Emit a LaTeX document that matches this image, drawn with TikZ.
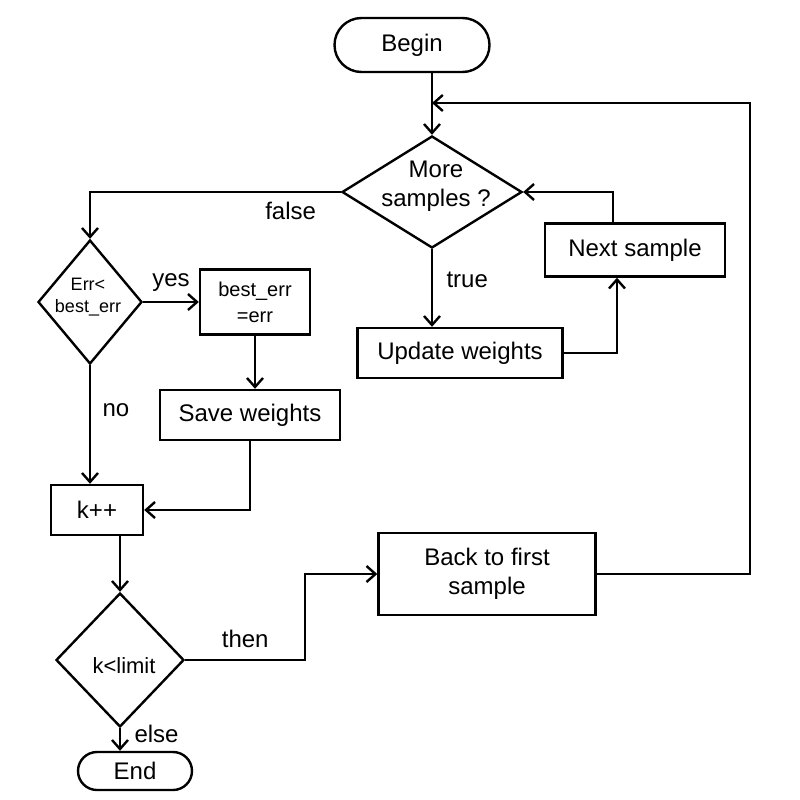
\documentclass[tikz,border=0pt]{standalone}
\usepackage{fontspec}
\setmainfont{Liberation Sans}
\usetikzlibrary{shapes.geometric,arrows.meta}
\begin{document}
\begin{tikzpicture}[x=1pt,y=-1pt,line width=2.4pt,
  txt/.style={font=\fontsize{24}{29}\selectfont},
  box/.style={draw,rectangle,inner sep=0pt,align=center,txt},
  term/.style={box,rounded corners=19pt},
  dec/.style={draw,diamond,inner sep=0pt},
  lbl/.style={txt},
  arr/.style={-{Straight Barb[length=9pt,width=16pt]}}]
\useasboundingbox (0,0) rectangle (800,800);
% nodes
\node[term,minimum width=155pt,minimum height=54pt,rounded corners=27pt] (begin) at (412,45) {Begin};
\node[dec,minimum width=180pt,minimum height=112pt] (more) at (432,192) {};
\node[txt,align=center] (moretxt) at (436,186) {More\\samples ?};
\node[box,minimum width=180pt,minimum height=53pt] (next) at (635,250) {Next sample};
\node[box,minimum width=205pt,minimum height=50pt] (upd) at (460,353) {Update weights};
\node[dec,minimum width=104pt,minimum height=124pt] (err) at (90,302) {};
\node[txt,align=center,font=\fontsize{18}{22}\selectfont] (errtxt) at (88,297) {Err<\\best\_err};
\node[box,minimum width=110pt,minimum height=65pt,font=\fontsize{20}{26}\selectfont] (best) at (255,302) {best\_err\\=err};
\node[box,minimum width=180pt,minimum height=50pt] (save) at (250,415) {Save weights};
\node[box,minimum width=92pt,minimum height=50pt] (kpp) at (97,510) {k++};
\node[dec,minimum width=128pt,minimum height=134pt] (klim) at (120,660) {};
\node[txt,font=\fontsize{22}{26}\selectfont] (klimtxt) at (124,666) {k<limit};
\node[term,minimum width=114pt,minimum height=38pt] (end) at (135,771) {End};
\node[box,minimum width=217pt,minimum height=82pt] (back) at (487,574) {Back to first\\sample};
% helper coordinates
\coordinate (loopin) at (432,103);
\coordinate (loopR) at (750,103);
% connectors
\draw[arr] (more.north |- begin.south) -- (more.north);
\draw[arr] (more.south) -- node[lbl,right=10pt,pos=0.4]{true} (more.south |- upd.north);
\draw[arr] (upd.east) -- ([xshift=-18pt]next.south |- upd.east) -- ([xshift=-18pt]next.south);
\draw[arr] ([xshift=-22pt]next.north) -- ([xshift=-22pt]next.north |- more.east) -- (more.east);
\draw[arr] (more.west) -- node[lbl,below=6pt,pos=0.2]{false} (err.north |- more.west) -- (err.north);
\draw[arr] (err.east) -- node[lbl,above=6pt]{yes} (best.west);
\draw[arr] (best.south) -- (best.south |- save.north);
\draw[arr] (save.south) -- (save.south |- kpp.east) -- (kpp.east);
\draw[arr] (err.south) -- node[lbl,right=8pt,pos=0.38]{no} (err.south |- kpp.north);
\draw[arr] (klim.north |- kpp.south) -- (klim.north);
\draw[arr] (klim.south) -- node[lbl,right=10pt,pos=0.25]{else} (klim.south |- end.north);
\draw[arr] (klim.east) -- node[lbl,above=8pt]{then} ++(120,0) |- (back.west);
\draw[arr] (back.east) -| (loopR) -- (loopin);
\end{tikzpicture}
\end{document}
